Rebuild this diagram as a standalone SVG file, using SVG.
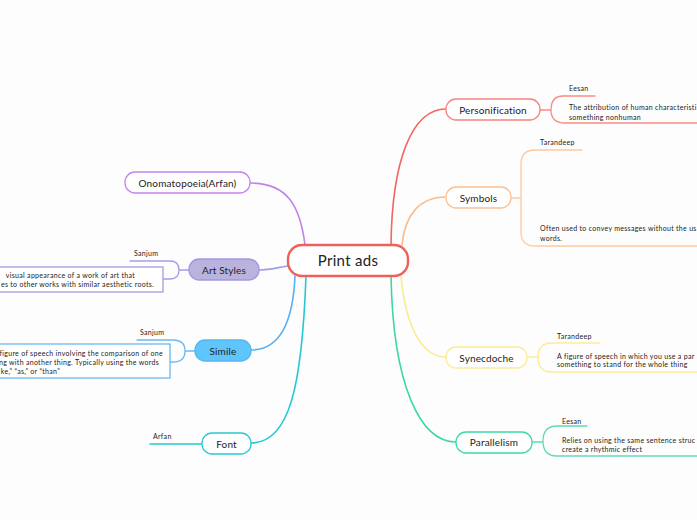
<svg xmlns="http://www.w3.org/2000/svg" width="697" height="520" viewBox="0 0 697 520">
<style>
text{font-family:Lato,"Noto Sans","Liberation Sans",sans-serif;fill:#222}
.c{fill:none;stroke-width:1.6;stroke-linecap:round}
.n{stroke-width:1.3}
.lbl{font-size:10px;text-anchor:middle;letter-spacing:0.15px}
.s{font-size:7px;letter-spacing:0.3px}
.e{text-anchor:end}
</style>
<rect width="697" height="520" fill="#fdfdfd"/>
<g id="connectors">
<path class="c" stroke="#f4665f" d="M391,245 C392,160 412,109 446,109"/>
<path class="c" stroke="#fdb987" d="M402,245 C405,214 420,197 446,197"/>
<path class="c" stroke="#fbea8e" d="M401,276 C405,322 420,357 446,357"/>
<path class="c" stroke="#3dd6a7" d="M391,276 C393,385 420,442 456,442"/>
<path class="c" stroke="#c183e8" d="M305,245 C300,205 287,183 250,183"/>
<path class="c" stroke="#a49de3" d="M288,266 C275,268 270,270 259,270"/>
<path class="c" stroke="#5aaff0" d="M295,276 C293,322 280,350 251,350"/>
<path class="c" stroke="#22c8d4" d="M306,276 C302,385 290,443 251,443"/>
<path class="c n" stroke="#f98a84" d="M540,110 L551,110 M563,96 Q551,96 551,110 Q551,123 565,123 L697,123 M563,96 L595,96"/>
<path class="c n" stroke="#fdc9a0" d="M511,198 L521,198 M535,150 Q521,150 521,164 L521,232 Q521,246 535,246 L697,246 M535,150 L582,150"/>
<path class="c n" stroke="#fbeb9a" d="M527,357 L538,357 M552,343 Q538,343 538,357 Q538,372 552,372 L697,372 M552,343 L600,343"/>
<path class="c n" stroke="#5edcb5" d="M532,442 L543,442 M557,426 Q543,426 543,441 Q543,456 557,456 L697,456 M557,426 L587,426"/>
<path class="c n" stroke="#a49de3" d="M189,270 L179,270 M170,261 Q179,261 179,270 Q179,279 170,279 L163,279 M170,261 L130,261"/>
<path class="c n" stroke="#6bb8f2" d="M195,351 L185,351 M173,340 Q185,340 185,351 Q185,362 173,362 L170,362 M173,340 L137,340"/>
<path class="c n" stroke="#22c8d4" d="M202,444 L150,444"/>
</g>
<g id="central">
<rect x="288" y="245" width="120" height="31" rx="14" fill="#fff" stroke="#f0605a" stroke-width="2.4"/>
<text x="348" y="266" font-size="15" text-anchor="middle" letter-spacing="0.3">Print ads</text>
</g>
<g id="personification">
<rect x="446" y="99" width="94" height="21" rx="10" fill="#fff" stroke="#f7837c" class="n"/>
<text class="lbl" x="493" y="113.5">Personification</text>
<text class="s" x="569" y="91">Eesan</text>
<text class="s" x="569" y="110">The attribution of human characteristi</text>
<text class="s" x="569" y="120">something nonhuman</text>
</g>
<g id="symbols">
<rect x="446" y="187" width="65" height="21" rx="10" fill="#fff" stroke="#fdbf90" class="n"/>
<text class="lbl" x="478.5" y="201.5">Symbols</text>
<text class="s" x="540" y="145">Tarandeep</text>
<text class="s" x="540" y="231">Often used to convey messages without the us</text>
<text class="s" x="540" y="240.5">words.</text>
</g>
<g id="synecdoche">
<rect x="446" y="347" width="81" height="21" rx="10" fill="#fff" stroke="#fbec96" class="n"/>
<text class="lbl" x="486.5" y="361.5">Synecdoche</text>
<text class="s" x="557" y="338.5">Tarandeep</text>
<text class="s" x="557" y="358.5">A figure of speech in which you use a par</text>
<text class="s" x="557" y="367">something to stand for the whole thing</text>
</g>
<g id="parallelism">
<rect x="456" y="432" width="76" height="21" rx="10" fill="#fff" stroke="#3ed8a8" class="n"/>
<text class="lbl" x="494" y="446">Parallelism</text>
<text class="s" x="562" y="423.5">Eesan</text>
<text class="s" x="562" y="442.5">Relies on using the same sentence struc</text>
<text class="s" x="562" y="451.5">create a rhythmic effect</text>
</g>
<g id="onomatopoeia">
<rect x="125" y="172" width="125" height="21" rx="10" fill="#fff" stroke="#c585ec" class="n"/>
<text class="lbl" x="187.5" y="186.5">Onomatopoeia(Arfan)</text>
</g>
<g id="artstyles">
<rect x="189" y="259" width="70" height="21" rx="10" fill="#b9b3dd" stroke="#a098e2" class="n"/>
<text class="lbl" x="224" y="273.5">Art Styles</text>
<text class="s" x="134" y="256">Sanjum</text>
<rect x="-10" y="267" width="173" height="25" fill="#fff" stroke="#a49de3" class="n"/>
<text class="s e" x="135" y="277.5">visual appearance of a work of art that</text>
<text class="s e" x="154" y="287">es to other works with similar aesthetic roots.</text>
</g>
<g id="simile">
<rect x="195" y="340" width="56" height="21" rx="10" fill="#5fc6fd" stroke="#55b6ef" class="n"/>
<text class="lbl" x="223" y="354.5">Simile</text>
<text class="s" x="140" y="335">Sanjum</text>
<rect x="-10" y="344" width="180" height="34" fill="#fff" stroke="#6bb8f2" class="n"/>
<text class="s e" x="163" y="356">figure of speech involving the comparison of one</text>
<text class="s e" x="159" y="365">ng with another thing. Typically using the words</text>
<text class="s e" x="60" y="374">ke,” “as,” or “than”</text>
</g>
<g id="font">
<rect x="202" y="433" width="49" height="21" rx="10" fill="#fff" stroke="#27cad6" class="n"/>
<text class="lbl" x="226.5" y="447.5">Font</text>
<text class="s" x="153" y="438.5">Arfan</text>
</g>
</svg>
